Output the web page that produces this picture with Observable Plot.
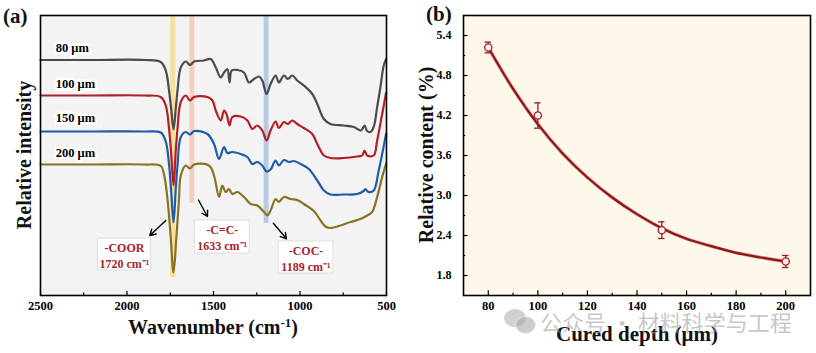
<!DOCTYPE html>
<html>
<head>
<meta charset="utf-8">
<script src="https://cdn.jsdelivr.net/npm/d3@7"></script>
<script src="https://cdn.jsdelivr.net/npm/@observablehq/plot@0.6"></script>
<style>
  body { margin: 0; background: white; }
  #wrap { position: relative; width: 816px; height: 353px; overflow: hidden; background: white;
          font-family: "Liberation Serif", "Times New Roman", serif; font-weight: bold; }
  #wrap > div.p { position: absolute; top: 0; }
  .t { position: absolute; white-space: nowrap; color: #111; }
  .c { transform: translate(-50%, -50%); }
  .r { transform: translate(-50%, -50%) rotate(-90deg); }
  .wm { position: absolute; white-space: nowrap; font-family: "Noto Sans CJK SC", sans-serif; font-weight: 400;
        color: rgba(150,150,150,0.55); font-size: 22px; }
</style>
</head>
<body>
<div id="wrap">
  <div class="p" id="pa" style="left:0"></div>
  <div class="p" id="pb" style="left:400px"></div>
  <div class="t" style="left:3px; top:4px; font-size:21px;">(a)</div>
  <div class="t" style="left:426px; top:2px; font-size:21px;">(b)</div>
  <div class="t r" style="left:24px; top:155px; font-size:20px;">Relative intensity</div>
  <div class="t c" style="left:213px; top:327px; font-size:20px;">Wavenumber (cm<sup style="font-size:13px">-1</sup>)</div>
  <div class="t r" style="left:426px; top:155px; font-size:20px;">Relative content (%)</div>
  <div class="t c" style="left:637px; top:334px; font-size:21px;">Cured depth (μm)</div>
  <div style="position:absolute; left:504px; top:309px; width:22px; height:18px; border-radius:50%; background:rgba(170,170,170,0.55);"></div>
  <div style="position:absolute; left:515px; top:316px; width:19px; height:16px; border-radius:50%; background:rgba(170,170,170,0.6); border:1px solid rgba(255,255,255,0.7);"></div>
  <div class="wm" style="left:540px; top:305px;">公众号 · 材料科学与工程</div>
</div>
<script>
// ---------- Panel (a): FTIR spectra ----------
const seriesNames = ["80 μm", "100 μm", "150 μm", "200 μm"];
const wn80 = [2500, 2200, 1900, 1805, 1776, 1757, 1745, 1731, 1718, 1708, 1689, 1660, 1636, 1612, 1555, 1516, 1487, 1458, 1439, 1420, 1407, 1395, 1362, 1324, 1295, 1266, 1237, 1218, 1193, 1170, 1141, 1122, 1093, 1070, 1045, 1016, 978, 929, 900, 862, 824, 747, 689, 647, 627, 612, 593, 574, 554, 535, 516, 502];
const int80 = [240.5, 240.5, 240.5, 238.5, 230, 210, 192, 171, 192, 210, 233, 239, 235.5, 239, 240, 241.5, 233, 223, 228, 231.5, 218, 230, 230.5, 228, 218, 221.5, 224, 220, 206.5, 216.5, 225, 218, 225, 221.5, 225, 220, 215, 206.5, 196.5, 181.5, 176.5, 175, 173.5, 170, 175, 169.5, 168.5, 173.5, 193.5, 213.5, 235, 241.5];
const wn100 = [2500, 2200, 1900, 1805, 1776, 1757, 1745, 1731, 1718, 1708, 1689, 1660, 1636, 1612, 1535, 1506, 1487, 1458, 1439, 1424, 1407, 1391, 1343, 1304, 1276, 1247, 1218, 1193, 1170, 1141, 1122, 1093, 1070, 1045, 1016, 978, 929, 900, 862, 824, 747, 670, 641, 627, 612, 574, 554, 525, 502];
const int100 = [205, 205, 205, 203.5, 195, 172, 148, 115, 150, 172, 198.5, 205, 200, 203.5, 203.5, 200, 190, 180, 190, 186, 175, 183.5, 184, 180, 171.5, 175, 170, 160, 170, 179, 172.5, 178.5, 176.5, 180, 176.5, 172.5, 166.5, 156.5, 145, 142.5, 142.5, 144, 145, 150, 145, 145, 160, 186.5, 208];
const wn150 = [2500, 2200, 1900, 1805, 1776, 1757, 1745, 1731, 1718, 1708, 1689, 1660, 1636, 1612, 1535, 1497, 1468, 1439, 1420, 1391, 1343, 1304, 1276, 1247, 1218, 1193, 1170, 1141, 1122, 1093, 1064, 1036, 997, 949, 900, 862, 824, 747, 670, 632, 622, 603, 574, 545, 525, 502];
const int150 = [169, 169, 169, 168, 159, 136, 110, 78, 112, 135, 163.5, 168.5, 166, 169.5, 166.5, 156.5, 141.5, 153.5, 147.5, 148.5, 146.5, 143.5, 136.5, 138.5, 135, 129, 131, 140, 135, 140.5, 138.5, 139.5, 136.5, 131.5, 120, 110, 106, 106, 106.5, 109.5, 111.5, 108.5, 110, 130, 146.5, 167];
const wn200 = [2500, 2200, 1900, 1805, 1785, 1765, 1748, 1731, 1714, 1700, 1689, 1660, 1636, 1612, 1526, 1497, 1468, 1449, 1430, 1411, 1391, 1362, 1324, 1285, 1247, 1205, 1189, 1170, 1141, 1122, 1093, 1055, 1016, 978, 920, 881, 853, 824, 766, 708, 651, 612, 583, 554, 525, 502];
const int200 = [136, 136, 136, 134.5, 125, 100, 65, 28, 65, 100, 125, 135, 132, 136, 135, 125, 103.5, 115, 108.5, 111.5, 106.5, 108.5, 103.5, 96.5, 95, 88, 85, 90, 101.5, 98.5, 103.5, 101.5, 100.5, 96.5, 89.5, 80, 74, 72.5, 75, 78.5, 81.5, 85, 88.5, 103.5, 123.5, 137];
const seriesColors = ["#4b4b4b", "#b41f24", "#1f5ca6", "#867422"];

// sample label anchors (wavenumber, intensity)
const labelWn = [2412, 2412, 2412, 2412];
const labelInt = [253, 217, 182.5, 148];

// highlighted bands: centre, top, bottom (a.u.)
const bandCentre = [1733, 1622, 1193];
const bandBottom = [23, 97, 77];
const bandColors = ["#f7d98a", "#f6c4b2", "#a6c0de"];

// annotations
const noteText = ["-COOR\n1720 cm⁻¹", "-C=C-\n1633 cm⁻¹", "-COC-\n1189 cm⁻¹"];
const noteBoxW = [[2168, 1862], [1608, 1291], [1124, 807]];
const noteBoxI = [[62, 30], [80, 47], [59, 27]];
const arrowFrom = [[1776, 80], [1587, 100.5], [1154, 77.3]];
const arrowTo = [[1868, 65], [1535, 84], [1078, 61.7]];

const xTicksA = [2500, 2000, 1500, 1000, 500];
const xMinorA = [2250, 1750, 1250, 750];

const spectra = [[wn80, int80], [wn100, int100], [wn150, int150], [wn200, int200]].map(([w, v], k) =>
  w.map((x, i) => ({w: x, v: v[i], s: seriesNames[k]})));

const bands = bandCentre.map((c, i) => ({x1: c + 14, x2: c - 14, y1: bandBottom[i], y2: 285, fill: bandColors[i]}));
const boxes = noteText.map((t, i) => ({x1: noteBoxW[i][0], x2: noteBoxW[i][1], y1: noteBoxI[i][0], y2: noteBoxI[i][1],
  cx: (noteBoxW[i][0] + noteBoxW[i][1]) / 2, cy: (noteBoxI[i][0] + noteBoxI[i][1]) / 2, t}));
const arrows = arrowFrom.map((a, i) => ({x1: a[0], y1: a[1], x2: arrowTo[i][0], y2: arrowTo[i][1]}));
const labels = seriesNames.map((s, i) => ({s, x: labelWn[i], y: labelInt[i]}));

const serif = "'Liberation Serif', 'Times New Roman', serif";

const plotA = Plot.plot({
  width: 400, height: 353,
  marginLeft: 40, marginRight: 14, marginTop: 15, marginBottom: 58,
  style: {fontFamily: serif, fontSize: "12px", fontWeight: "bold", background: "transparent", overflow: "visible"},
  x: {domain: [2500, 500]},
  y: {domain: [5, 285], axis: null},
  marks: [
    Plot.frame({fill: "#f3f3f3", stroke: null}),
    Plot.rect(bands, {x1: "x1", x2: "x2", y1: "y1", y2: "y2", fill: d => d.fill, fillOpacity: 0.8}),
    ...[3, 2, 1, 0].map(k => Plot.line(spectra[k], {x: "w", y: "v", stroke: seriesColors[k], strokeWidth: 2.2, curve: "catmull-rom"})),
    Plot.text(labels, {x: "x", y: "y", text: "s", textAnchor: "start", fontSize: 12.5, fontWeight: "bold",
      fill: "black", stroke: "white", strokeWidth: 5, paintOrder: "stroke"}),
    Plot.rect(boxes, {x1: "x1", x2: "x2", y1: "y1", y2: "y2", fill: "white", stroke: "#dddddd", strokeWidth: 1}),
    Plot.text(boxes, {x: "cx", y: "cy", text: "t", fill: "#a3262c", fontSize: 12, fontWeight: "bold", lineHeight: 1.35}),
    Plot.arrow(arrows, {x1: "x1", y1: "y1", x2: "x2", y2: "y2", stroke: "black", strokeWidth: 1.4, headLength: 7}),
    Plot.ruleX(xTicksA, {x: d => d, y1: 5, y2: 9, stroke: "black", strokeWidth: 1.2}),
    Plot.ruleX(xMinorA, {x: d => d, y1: 5, y2: 7.5, stroke: "black", strokeWidth: 1.2}),
    Plot.axisX({ticks: xTicksA, tickSize: 0, tickPadding: 6, label: null, tickFormat: d => String(d), fontSize: 12.5, fontWeight: "bold"}),
    Plot.frame({stroke: "black", strokeWidth: 1.6})
  ]
});
document.getElementById("pa").append(plotA);

// ---------- Panel (b): relative content vs cured depth ----------
const depth = [80, 100, 150, 200];
const content = [5.22, 4.20, 2.48, 2.01];
const contentErr = [0.08, 0.19, 0.125, 0.09];
const fitDepth = [80, 90, 100, 110, 120, 130, 140, 150, 160, 170, 180, 190, 200];
const fitContent = [5.22, 4.60, 4.07, 3.63, 3.27, 2.97, 2.72, 2.51, 2.35, 2.24, 2.14, 2.07, 2.01];
const xTicksB = [80, 100, 120, 140, 160, 180, 200];
const xMinorB = [90, 110, 130, 150, 170, 190];
const yTicksB = [1.8, 2.4, 3.0, 3.6, 4.2, 4.8, 5.4];
const yMinorB = [2.1, 2.7, 3.3, 3.9, 4.5, 5.1];

const pts = depth.map((d, i) => ({x: d, y: content[i], lo: content[i] - contentErr[i], hi: content[i] + contentErr[i]}));
const fit = fitDepth.map((d, i) => ({x: d, y: fitContent[i]}));

const plotB = Plot.plot({
  width: 416, height: 353,
  marginLeft: 63, marginRight: 6, marginTop: 15, marginBottom: 58,
  style: {fontFamily: serif, fontSize: "12px", fontWeight: "bold", background: "transparent", overflow: "visible"},
  x: {domain: [70, 210]},
  y: {domain: [1.5, 5.7]},
  marks: [
    Plot.frame({fill: "#fdf8ea", stroke: null}),
    Plot.line(fit, {x: "x", y: "y", stroke: "#d24a4a", strokeWidth: 3.6, strokeOpacity: 0.5, curve: "catmull-rom"}),
    Plot.line(fit, {x: "x", y: "y", stroke: "#8c1719", strokeWidth: 2.2, curve: "catmull-rom"}),
    Plot.ruleX(pts, {x: "x", y1: "lo", y2: "hi", stroke: "#9a1c22", strokeWidth: 1.3}),
    Plot.ruleY(pts, {y: "hi", x1: d => d.x - 1.3, x2: d => d.x + 1.3, stroke: "#9a1c22", strokeWidth: 1.3}),
    Plot.ruleY(pts, {y: "lo", x1: d => d.x - 1.3, x2: d => d.x + 1.3, stroke: "#9a1c22", strokeWidth: 1.3}),
    Plot.dot(pts, {x: "x", y: "y", r: 3.6, stroke: "#b51e2a", strokeWidth: 1.4, fill: "#fdf8ea"}),
    Plot.ruleX(xTicksB, {x: d => d, y1: 1.5, y2: 1.57, stroke: "black", strokeWidth: 1.2}),
    Plot.ruleX(xMinorB, {x: d => d, y1: 1.5, y2: 1.535, stroke: "black", strokeWidth: 1.2}),
    Plot.ruleY(yTicksB, {y: d => d, x1: 70, x2: 71.8, stroke: "black", strokeWidth: 1.2}),
    Plot.ruleY(yMinorB, {y: d => d, x1: 70, x2: 70.9, stroke: "black", strokeWidth: 1.2}),
    Plot.axisX({ticks: xTicksB, tickSize: 0, tickPadding: 6, label: null, tickFormat: d => String(d), fontSize: 12.5, fontWeight: "bold"}),
    Plot.axisY({ticks: yTicksB, tickSize: 0, tickPadding: 12, label: null, tickFormat: d3.format(".1f"), fontSize: 12, fontWeight: "bold"}),
    Plot.frame({stroke: "black", strokeWidth: 1.6})
  ]
});
document.getElementById("pb").append(plotB);
</script>
</body>
</html>
